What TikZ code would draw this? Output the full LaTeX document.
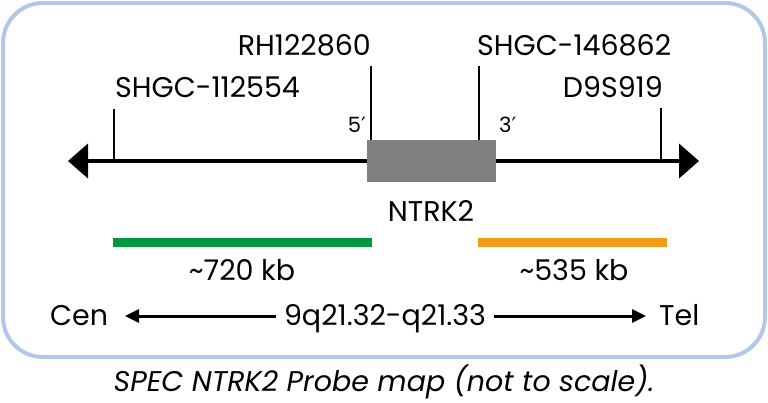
\documentclass[tikz,border=0pt]{standalone}
\usepackage{fontspec}
\setmainfont{Poppins}
\newfontfamily\dvfont{DejaVu Sans}
\usetikzlibrary{arrows.meta}
\definecolor{frameblue}{HTML}{B3C7E6}
\definecolor{probegreen}{HTML}{00983F}
\definecolor{probeorange}{HTML}{F39A16}
\definecolor{genegray}{HTML}{808080}
\newcommand{\primemark}{{\dvfont ′}}
\begin{document}
\begin{tikzpicture}[x=1pt,y=-1pt,
  lbl/.style={inner sep=0pt,font=\fontsize{28.5}{32}\selectfont},
  small/.style={inner sep=0pt,font=\fontsize{21}{24}\selectfont},
  tick/.style={line width=2pt},
  probe/.style={line width=9pt},
  chrom/.style={line width=4pt,-{Triangle[length=20pt,width=34pt]}},
  band/.style={line width=3pt,-{Triangle[length=14pt,width=13pt]}}]
\useasboundingbox (0,0) rectangle (768,402);
\draw[frameblue,line width=4pt,rounded corners=40pt] (3,3) rectangle (765,357);
% chromosome line
\coordinate (mid) at (431,161);
\coordinate (ltip) at (68,161);
\coordinate (rtip) at (699,161);
\draw[chrom] (mid) -- (ltip);
\draw[chrom] (mid) -- (rtip);
\node[fill=genegray,minimum width=129pt,minimum height=42pt,inner sep=0pt] (gene) at (431.5,161) {};
% ticks
\coordinate (t1b) at (114,161); \coordinate (t1t) at (114,109);
\coordinate (t2b) at (371,140); \coordinate (t2t) at (371,66);
\coordinate (t3b) at (479,140); \coordinate (t3t) at (479,66);
\coordinate (t4b) at (661,161); \coordinate (t4t) at (661,108);
\draw[tick] (t1b) -- (t1t);
\draw[tick] (t2b) -- (t2t);
\draw[tick] (t3b) -- (t3t);
\draw[tick] (t4b) -- (t4t);
% labels
\node[lbl,anchor=base west] (l1) at (115,97) {SHGC-112554};
\node[lbl,anchor=base east] (l2) at (371,55) {RH122860};
\node[lbl,anchor=base west] (l3) at (477,55) {SHGC-146862};
\node[lbl,anchor=base east] (l4) at (663,97) {D9S919};
\node[small,anchor=base east] (p5) at (366,132) {5\primemark};
\node[small,anchor=base west] (p3) at (499,132) {3\primemark};
\node[lbl,anchor=base] (ntrk) at (431,221) {NTRK2};
% probes
\coordinate (g1) at (113,242); \coordinate (g2) at (372,242);
\coordinate (o1) at (478,242); \coordinate (o2) at (667,242);
\draw[probe,probegreen] (g1) -- (g2);
\draw[probe,probeorange] (o1) -- (o2);
\node[lbl,anchor=base] (kb1) at (242,280) {\string~720 kb};
\node[lbl,anchor=base] (kb2) at (574,280) {\string~535 kb};
% band row
\node[lbl,anchor=base west] (cen) at (50,325) {Cen};
\node[lbl,anchor=base] (band) at (385,325) {9q21.32-q21.33};
\node[lbl,anchor=base west] (tel) at (659,325) {Tel};
\coordinate (bl) at (125,316);
\coordinate (br) at (646,316);
\draw[band] (band.west |- bl) ++(-8,0) -- (bl);
\draw[band] (band.east |- br) ++(8,0) -- (br);
% caption
\node[lbl,anchor=base,font=\fontsize{28.5}{32}\selectfont\itshape] (cap) at (384,391) {SPEC NTRK2 Probe map (not to scale).};
\end{tikzpicture}
\end{document}
